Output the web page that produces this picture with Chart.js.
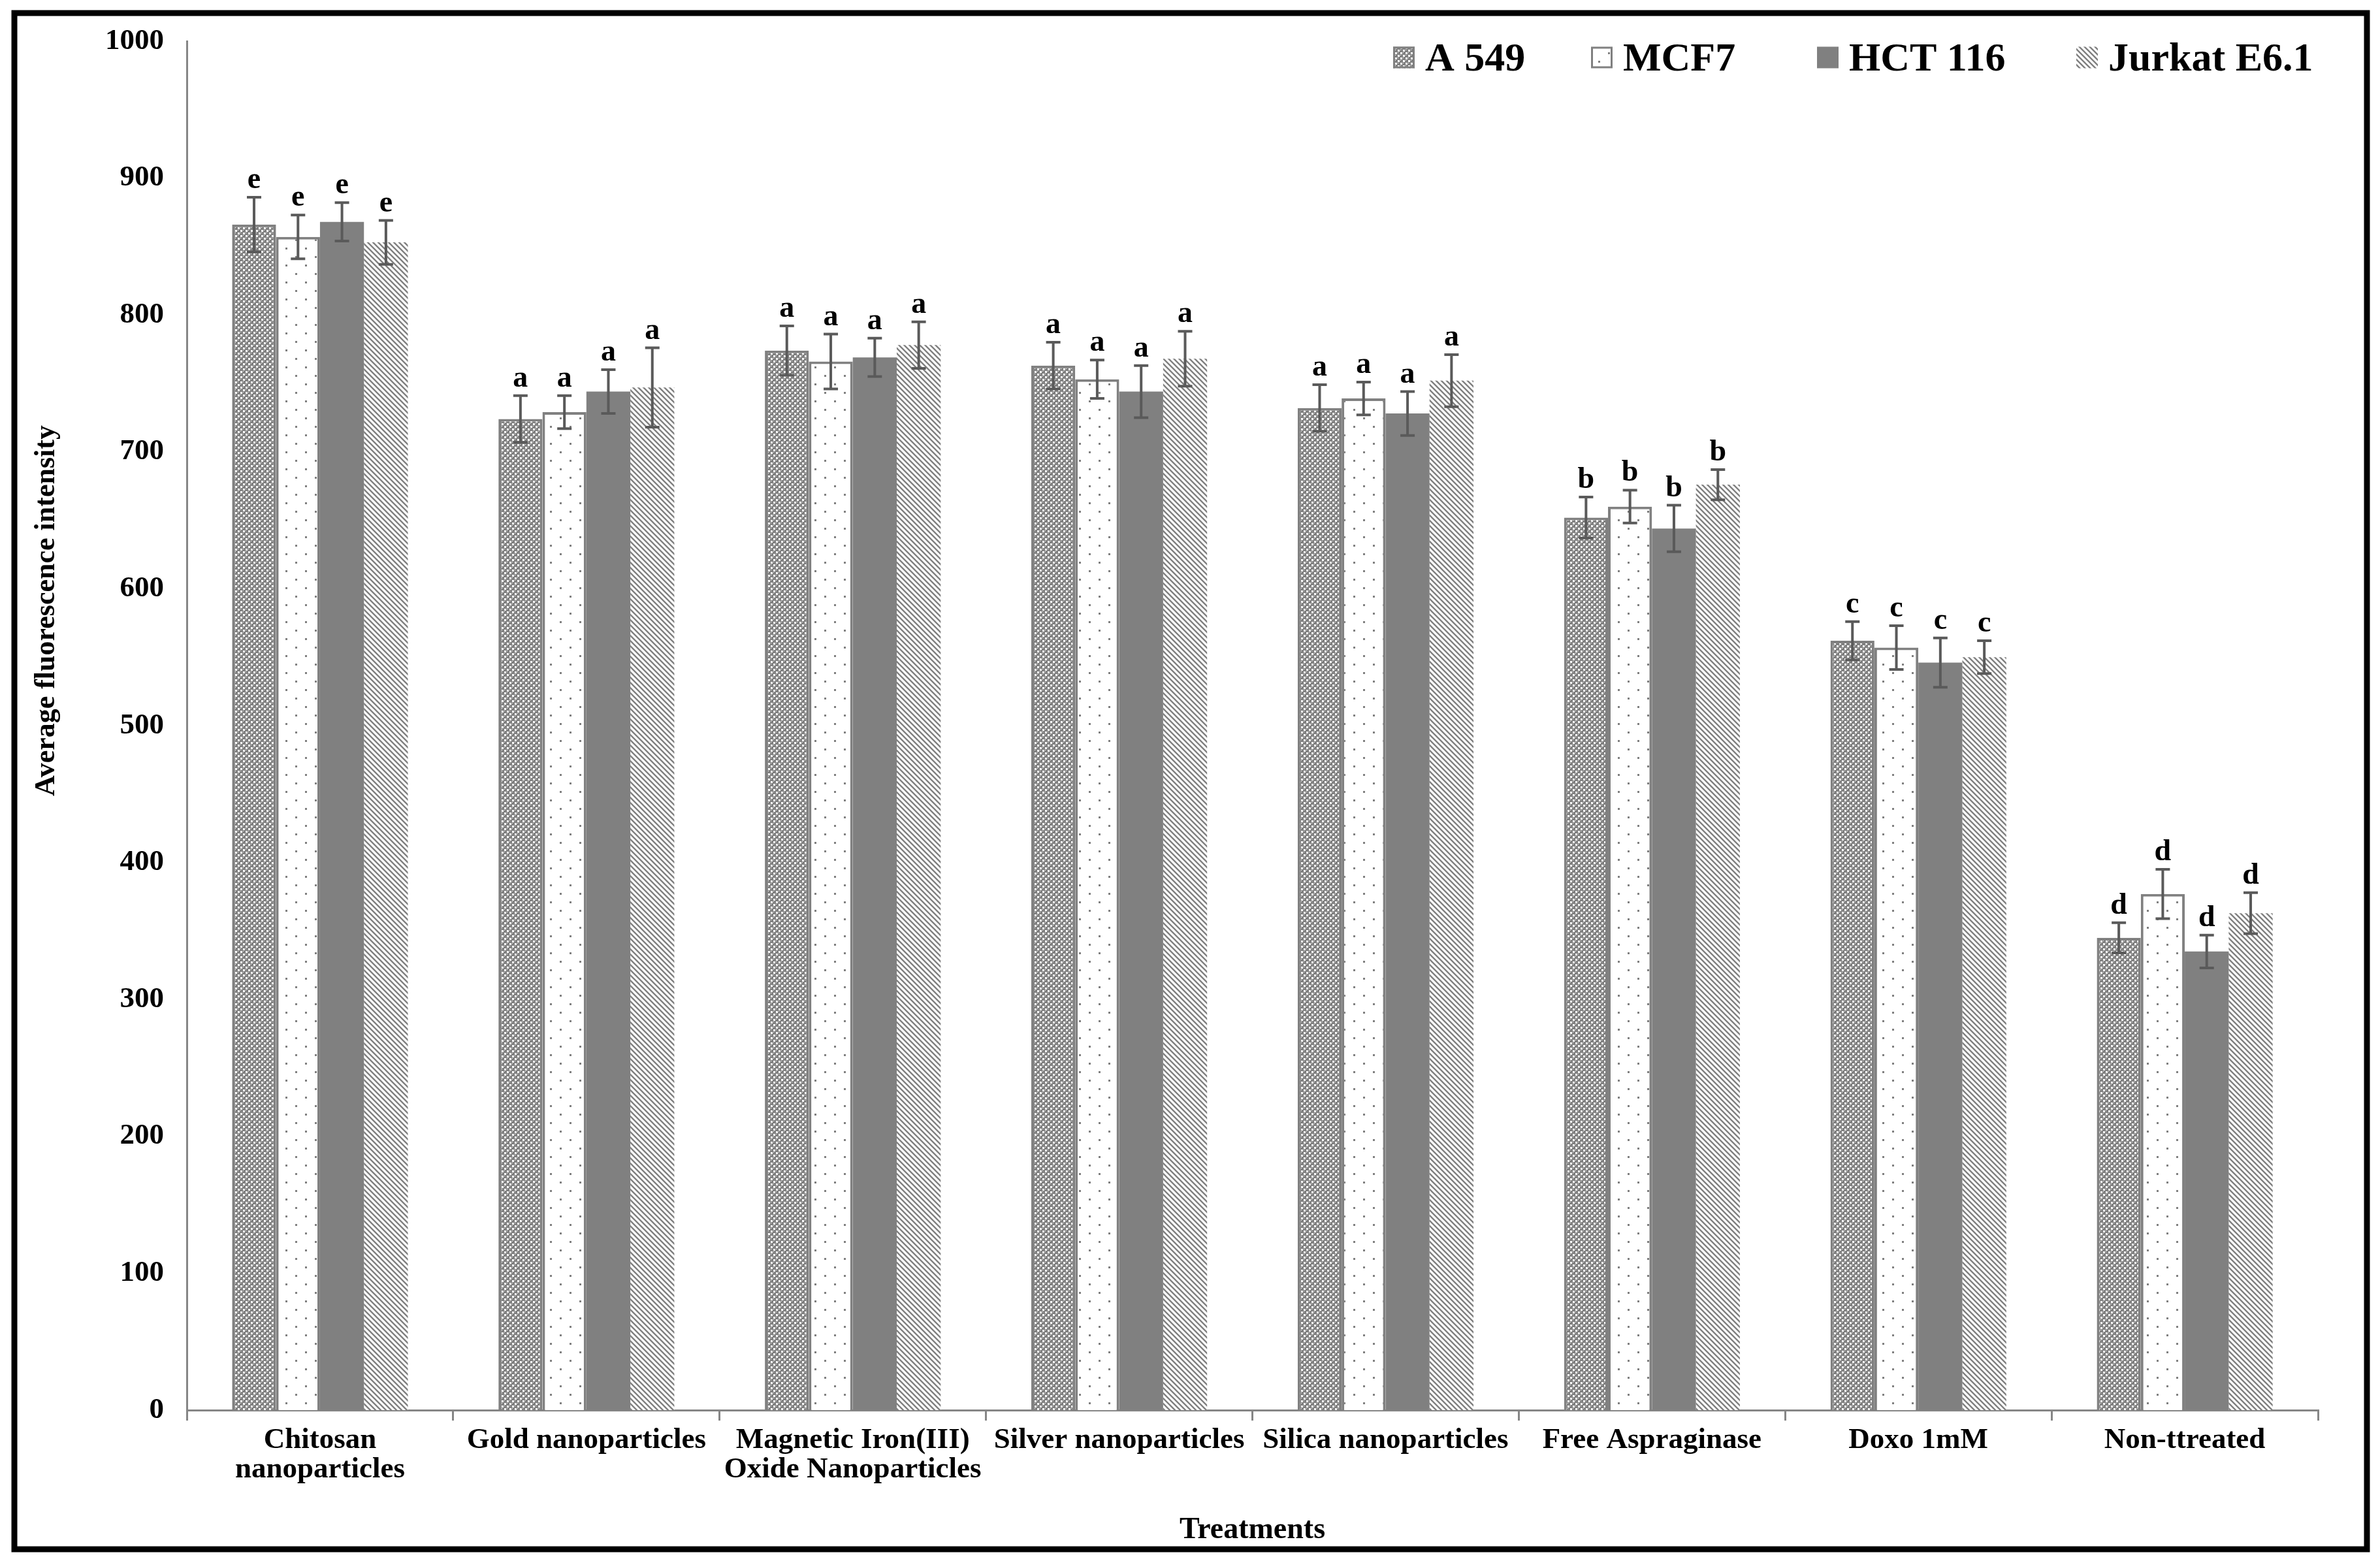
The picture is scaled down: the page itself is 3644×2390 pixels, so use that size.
<!DOCTYPE html>
<html>
<head>
<meta charset="utf-8">
<script src="https://cdn.jsdelivr.net/npm/chart.js@4.4.1/dist/chart.umd.min.js"></script>
<style>
  html, body { margin: 0; padding: 0; background: #fff; }
  #wrap { width: 3644px; height: 2390px; position: relative; }
</style>
</head>
<body>
<div id="wrap"><canvas id="chart"></canvas></div>
<script>
// categories on the x axis
const treatments = [
  ['Chitosan', 'nanoparticles'],
  'Gold nanoparticles',
  ['Magnetic Iron(III)', 'Oxide Nanoparticles'],
  'Silver nanoparticles',
  'Silica nanoparticles',
  'Free Aspraginase',
  'Doxo 1mM',
  'Non-ttreated'
];
const cellLines = ['A 549', 'MCF7', 'HCT 116', 'Jurkat E6.1'];

// mean fluorescence
const a549   = [866, 724, 774, 763, 732, 652, 562, 345];
const mcf7   = [857, 729, 766, 753, 739, 660, 557, 377];
const hct116 = [868, 744, 769, 744, 728, 644, 546, 335];
const jurkat = [853, 747, 778, 768, 752, 676, 550, 363];

// error bar half-heights
const a549Err   = [20, 17, 18, 17, 17, 15, 14, 11];
const mcf7Err   = [16, 12, 20, 14, 12, 12, 16, 18];
const hct116Err = [14, 16, 14, 19, 16, 17, 18, 12];
const jurkatErr = [16, 29, 17, 20, 19, 11, 12, 15];

// significance letters per treatment
const letters = ['e', 'a', 'a', 'a', 'a', 'b', 'c', 'd'];

// y axis
const yMin = 0, yMax = 1000, yStep = 100;

const FONT = "'Liberation Serif', 'Times New Roman', serif";
const GRAY = '#808080';
const AXIS = '#868686';
const ERR = '#5a5a5a';

const canvas = document.getElementById('chart');
const mainCtx = canvas.getContext('2d');

function makePattern(w, h, draw) {
  const c = document.createElement('canvas');
  c.width = w; c.height = h;
  draw(c.getContext('2d'), w, h);
  return mainCtx.createPattern(c, 'repeat');
}

const checker = makePattern(8, 8, (g) => {
  g.fillStyle = GRAY; g.fillRect(0, 0, 8, 8);
  g.fillStyle = '#fff';
  g.fillRect(0, 0, 3, 3);
  g.fillRect(4, 4, 3, 3);
  g.fillRect(4, 0, 1, 1);
  g.fillRect(0, 4, 1, 1);
});
const dots = makePattern(30, 26, (g) => {
  g.fillStyle = '#fff'; g.fillRect(0, 0, 30, 26);
  g.fillStyle = GRAY;
  g.fillRect(2, 2, 3, 3);
  g.fillRect(17, 15, 3, 3);
});
const diag = makePattern(8, 8, (g) => {
  g.fillStyle = '#fff'; g.fillRect(0, 0, 8, 8);
  g.strokeStyle = GRAY; g.lineWidth = 2.4;
  g.beginPath();
  g.moveTo(-1, -1); g.lineTo(9, 9);
  g.moveTo(-1, 7); g.lineTo(1, 9);
  g.moveTo(7, -1); g.lineTo(9, 1);
  g.stroke();
});

const bgBorder = {
  id: 'bgBorder',
  beforeDraw(chart) {
    const c = chart.ctx;
    c.save();
    c.fillStyle = '#fff';
    c.fillRect(0, 0, chart.width, chart.height);
    c.restore();
  },
  afterDraw(chart) {
    const c = chart.ctx;
    c.save();
    c.strokeStyle = '#000';
    c.lineWidth = 9;
    c.strokeRect(22, 20, chart.width - 42, chart.height - 38);
    c.restore();
  }
};

// error bars + letters above them
const errorBars = {
  id: 'errorBars',
  afterDatasetsDraw(chart) {
    const c = chart.ctx;
    const y = chart.scales.y;
    c.save();
    chart.data.datasets.forEach((ds, i) => {
      const meta = chart.getDatasetMeta(i);
      meta.data.forEach((bar, j) => {
        const v = ds.data[j], e = ds.err[j];
        const top = y.getPixelForValue(v + e);
        const bot = y.getPixelForValue(v - e);
        c.strokeStyle = ERR;
        c.lineWidth = 4;
        c.beginPath();
        c.moveTo(bar.x, top); c.lineTo(bar.x, bot);
        c.moveTo(bar.x - 11, top); c.lineTo(bar.x + 11, top);
        c.moveTo(bar.x - 11, bot); c.lineTo(bar.x + 11, bot);
        c.stroke();
        c.fillStyle = '#000';
        c.font = 'bold 46px ' + FONT;
        c.textAlign = 'center';
        c.textBaseline = 'alphabetic';
        c.fillText(letters[j], bar.x, top - 14);
      });
    });
    c.restore();
  }
};

// legend drawn inside the plot, top right
const innerLegend = {
  id: 'innerLegend',
  afterDraw(chart) {
    const c = chart.ctx;
    const boxX = [2133, 2436, 2782, 3179];
    const cy = 88, size = 33;
    c.save();
    c.font = 'bold 62px ' + FONT;
    c.textBaseline = 'middle';
    c.textAlign = 'left';
    chart.data.datasets.forEach((ds, i) => {
      const x = boxX[i];
      c.fillStyle = ds.backgroundColor;
      c.fillRect(x, cy - size / 2, size, size);
      if (ds.borderWidth) {
        c.strokeStyle = ds.borderColor;
        c.lineWidth = 3;
        c.strokeRect(x + 1.5, cy - size / 2 + 1.5, size - 3, size - 3);
      }
      c.fillStyle = '#000';
      c.fillText(ds.label, x + size + 16, cy + 4);
    });
    c.restore();
  }
};

// rotated y axis title
const yTitle = {
  id: 'yTitle',
  afterDraw(chart) {
    const c = chart.ctx;
    c.save();
    c.translate(72, 935);
    c.rotate(-Math.PI / 2);
    c.font = 'bold 44px ' + FONT;
    c.fillStyle = '#000';
    c.textAlign = 'center';
    c.textBaseline = 'middle';
    c.fillText('Average fluorescence intensity', 0, 0);
    c.restore();
  }
};

new Chart(mainCtx, {
  type: 'bar',
  data: {
    labels: treatments,
    datasets: [
      { label: cellLines[0], data: a549, err: a549Err, backgroundColor: checker, borderColor: GRAY, borderWidth: 4 },
      { label: cellLines[1], data: mcf7, err: mcf7Err, backgroundColor: dots, borderColor: GRAY, borderWidth: 4 },
      { label: cellLines[2], data: hct116, err: hct116Err, backgroundColor: GRAY, borderWidth: 0 },
      { label: cellLines[3], data: jurkat, err: jurkatErr, backgroundColor: diag, borderWidth: 0 }
    ]
  },
  options: {
    responsive: true,
    maintainAspectRatio: false,
    animation: false,
    devicePixelRatio: 1,
    layout: { padding: { top: 63, right: 95, bottom: 0, left: 0 } },
    datasets: { bar: { categoryPercentage: 0.66, barPercentage: 1 } },
    plugins: { legend: { display: false }, tooltip: { enabled: false } },
    scales: {
      x: {
        grid: { display: true, drawOnChartArea: false, drawTicks: true, tickLength: 16, offset: true, color: AXIS, lineWidth: 3 },
        border: { display: true, color: AXIS, width: 3 },
        ticks: { color: '#000', font: { family: FONT, size: 45, weight: 'bold', lineHeight: 1.0 }, padding: 8, maxRotation: 0, autoSkip: false },
        title: { display: true, text: 'Treatments', color: '#000', font: { family: FONT, size: 46, weight: 'bold' }, padding: { top: 0, bottom: 19 } },
        afterFit(s) { s.height = 231; }
      },
      y: {
        min: yMin, max: yMax,
        grid: { display: false, drawTicks: false },
        border: { display: true, color: AXIS, width: 3 },
        ticks: { stepSize: yStep, color: '#000', font: { family: FONT, size: 45, weight: 'bold' }, padding: 35, callback: (v) => String(v) },
        afterFit(s) { s.width = 286; }
      }
    }
  },
  plugins: [bgBorder, errorBars, innerLegend, yTitle]
});
</script>
</body>
</html>
